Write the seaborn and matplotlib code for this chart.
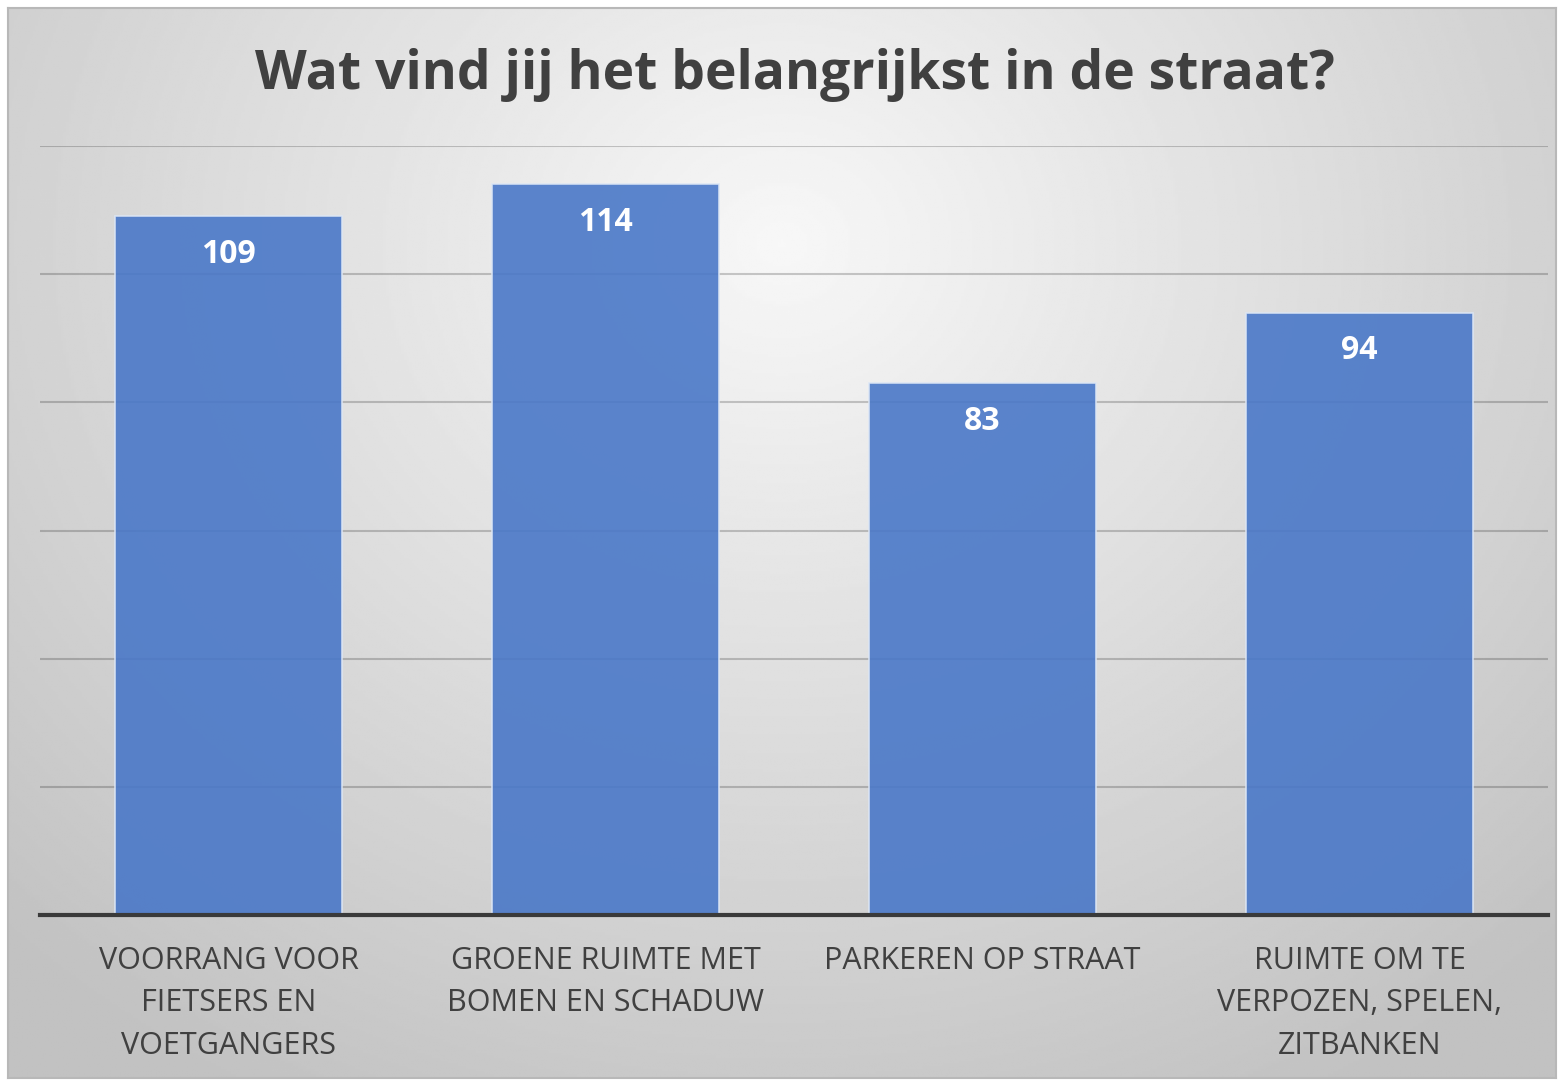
import matplotlib
matplotlib.use('Agg')
import matplotlib.pyplot as plt
import numpy as np
import pandas as pd
import seaborn as sns

categories = ['VOORRANG VOOR\nFIETSERS EN\nVOETGANGERS',
              'GROENE RUIMTE MET\nBOMEN EN SCHADUW',
              'PARKEREN OP STRAAT',
              'RUIMTE OM TE\nVERPOZEN, SPELEN,\nZITBANKEN']
values = [109, 114, 83, 94]
title = 'Wat vind jij het belangrijkst in de straat?'

sns.set_theme(style='white')
plt.rcParams['font.family'] = ['Open Sans', 'DejaVu Sans']

W, H = 1564, 1080
fig = plt.figure(figsize=(W / 100, H / 100), dpi=100, facecolor='white')

# radial gradient background inside a thin gray frame
bg = fig.add_axes([8 / W, 2 / H, 1548 / W, 1070 / H])
yy, xx = np.mgrid[0:1:400j, 0:1:600j]
r = np.sqrt(((xx - 0.5) / 0.75) ** 2 + ((yy - 0.22) / 0.95) ** 2)
shade = np.clip(0.97 - 0.22 * r, 0.76, 0.97)
bg.imshow(shade, cmap='gray', vmin=0, vmax=1, aspect='auto', extent=[0, 1, 1, 0])
bg.set_xticks([])
bg.set_yticks([])
for s in bg.spines.values():
    s.set_color('#b8b8b8')
    s.set_linewidth(1.5)

ax = fig.add_axes([40 / W, 165 / H, 1508 / W, 769 / H])
ax.set_facecolor('none')
df = pd.DataFrame({'cat': categories, 'val': values})
sns.barplot(data=df, x='cat', y='val', ax=ax, color='#4a78c8', alpha=0.9,
            saturation=1, width=0.6, edgecolor='#dce6f5', linewidth=1.2, zorder=3)
ax.set_ylim(0, 120)
ax.set_xlim(-0.5, 3.5)
ax.set_yticks(range(0, 121, 20))
ax.yaxis.grid(True, color='black', alpha=0.2, linewidth=1.5, zorder=0)
ax.set_axisbelow(True)
ax.set_yticklabels([])
ax.tick_params(axis='y', length=0)
ax.tick_params(axis='x', length=0, pad=22, labelsize=22, labelcolor='#404040')
for lab in ax.get_xticklabels():
    lab.set_linespacing(1.56)
    lab.set_verticalalignment('top')
ax.set_xlabel('')
ax.set_ylabel('')
for name, s in ax.spines.items():
    s.set_visible(name == 'bottom')
ax.spines['bottom'].set_color('#3a3a3a')
ax.spines['bottom'].set_linewidth(3)
ax.spines['bottom'].set_zorder(5)

for i, v in enumerate(values):
    ax.annotate(str(v), (i, v), xytext=(0, -38), textcoords='offset pixels',
                ha='center', va='center', color='white', fontsize=23,
                fontweight='bold', zorder=6)

fig.text(795 / W, 1 - 75 / H, title, ha='center', va='center', fontsize=38.5,
         fontweight='bold', color='#404040')

fig.savefig('out.png', dpi=100, facecolor='white')
